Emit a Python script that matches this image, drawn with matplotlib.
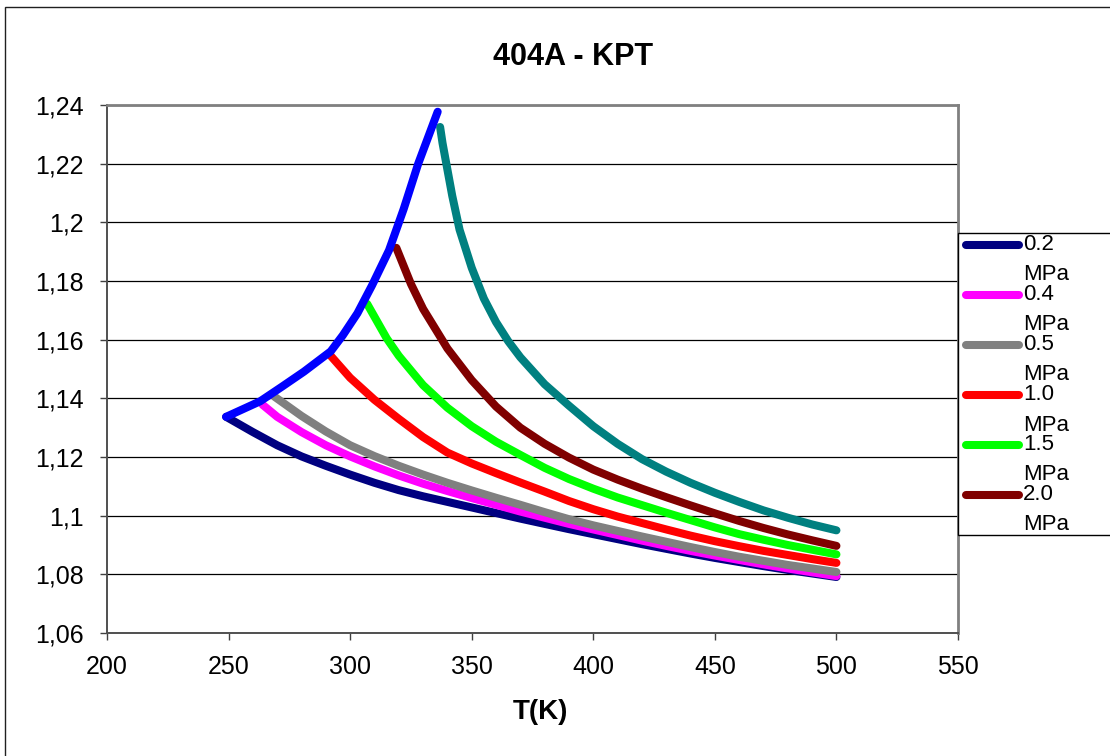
import matplotlib
matplotlib.use("Agg")
import matplotlib.pyplot as plt
from matplotlib.lines import Line2D
from matplotlib.patches import Rectangle

plt.rcParams['font.family'] = ['Liberation Sans', 'DejaVu Sans']

W, H = 1110, 756

# ---- isobars of R404A: temperature T (K) vs. ratio of specific heats k ----
t_02 = [249, 260, 270, 280, 290, 300, 310, 320, 330, 340, 350, 360, 370,
        380, 390, 400, 410, 420, 430, 440, 450, 460, 470, 480, 490, 500]
k_02 = [1.1337, 1.1285, 1.1240, 1.1202, 1.1170, 1.1140, 1.1112, 1.1087,
        1.1066, 1.1047, 1.1028, 1.1009, 1.0990, 1.0972, 1.0954, 1.0937,
        1.0920, 1.0903, 1.0887, 1.0871, 1.0856, 1.0842, 1.0828, 1.0815,
        1.0803, 1.0791]

t_04 = [264, 270, 280, 290, 300, 310, 320, 330, 340, 350, 360, 370, 380,
        390, 400, 410, 420, 430, 440, 450, 460, 470, 480, 490, 500]
k_04 = [1.1378, 1.1337, 1.1285, 1.1240, 1.1202, 1.1168, 1.1137, 1.1109,
        1.1084, 1.1060, 1.1037, 1.1014, 1.0993, 1.0972, 1.0953, 1.0934,
        1.0915, 1.0897, 1.0880, 1.0864, 1.0849, 1.0834, 1.0820, 1.0807,
        1.0794]

t_05 = [269, 280, 290, 300, 310, 320, 330, 340, 350, 360, 370, 380, 390,
        400, 410, 420, 430, 440, 450, 460, 470, 480, 490, 500]
k_05 = [1.1405, 1.1340, 1.1287, 1.1240, 1.1203, 1.1170, 1.1140, 1.1112,
        1.1086, 1.1061, 1.1037, 1.1012, 1.0988, 1.0967, 1.0948, 1.0929,
        1.0911, 1.0893, 1.0876, 1.0860, 1.0846, 1.0832, 1.0820, 1.0808]

t_10 = [292, 300, 310, 320, 330, 340, 350, 360, 370, 380, 390, 400, 410,
        420, 430, 440, 450, 460, 470, 480, 490, 500]
k_10 = [1.1545, 1.1470, 1.1395, 1.1330, 1.1268, 1.1215, 1.1178, 1.1145,
        1.1113, 1.1082, 1.1050, 1.1022, 1.0997, 1.0975, 1.0953, 1.0932,
        1.0913, 1.0896, 1.0880, 1.0866, 1.0852, 1.0839]

t_15 = [307, 315, 320, 330, 340, 350, 360, 370, 380, 390, 400, 410, 420,
        430, 440, 450, 460, 470, 480, 490, 500]
k_15 = [1.1722, 1.1605, 1.1545, 1.1445, 1.1368, 1.1305, 1.1252, 1.1207,
        1.1163, 1.1125, 1.1092, 1.1062, 1.1036, 1.1010, 1.0985, 1.0960,
        1.0937, 1.0918, 1.0900, 1.0884, 1.0868]

t_20 = [319, 325, 330, 340, 350, 360, 370, 380, 390, 400, 410, 420, 430,
        440, 450, 460, 470, 480, 490, 500]
k_20 = [1.1913, 1.1790, 1.1705, 1.1570, 1.1462, 1.1372, 1.1300, 1.1245,
        1.1198, 1.1157, 1.1123, 1.1092, 1.1063, 1.1035, 1.1008, 1.0982,
        1.0958, 1.0936, 1.0916, 1.0897]

t_30 = [337, 338, 340, 342, 345, 350, 355, 360, 365, 370, 380, 390, 400,
        410, 420, 430, 440, 450, 460, 470, 480, 490, 500]
k_30 = [1.2325, 1.2270, 1.2180, 1.2090, 1.1975, 1.1845, 1.1740, 1.1660,
        1.1595, 1.1540, 1.1448, 1.1375, 1.1305, 1.1245, 1.1193, 1.1150,
        1.1112, 1.1078, 1.1047, 1.1018, 1.0993, 1.0970, 1.0950]

# saturated vapour line
t_sat = [249, 263, 272, 281, 292, 297, 303, 309, 316, 322, 328, 336]
k_sat = [1.1337, 1.1390, 1.1440, 1.1491, 1.1560, 1.1615, 1.1690, 1.1785,
         1.1905, 1.2045, 1.2200, 1.2377]

legend_labels = ["0.2", "0.4", "0.5", "1.0", "1.5", "2.0"]
legend_unit = "MPa"

x_ticks = [200, 250, 300, 350, 400, 450, 500, 550]
y_ticks = [1.06, 1.08, 1.10, 1.12, 1.14, 1.16, 1.18, 1.20, 1.22, 1.24]
y_tick_labels = ["1,06", "1,08", "1,1", "1,12", "1,14", "1,16", "1,18",
                 "1,2", "1,22", "1,24"]

title = "404A - KPT"
x_label = "T(K)"

colors = {
    "0.2": "#000080", "0.4": "#FF00FF", "0.5": "#808080", "1.0": "#FF0000",
    "1.5": "#00FF00", "2.0": "#800000", "3.0": "#008080", "sat": "#0000FF",
}

fig = plt.figure(figsize=(W / 100, H / 100), dpi=100)
ax = fig.add_axes([107 / W, 1 - 633 / H, 851 / W, 528 / H])

LW = 5.8
line_kw = dict(lw=LW, solid_capstyle='round', solid_joinstyle='round')
series = [(t_02, k_02, "0.2"), (t_04, k_04, "0.4"), (t_05, k_05, "0.5"),
          (t_10, k_10, "1.0"), (t_15, k_15, "1.5"), (t_20, k_20, "2.0"),
          (t_30, k_30, "3.0"), (t_sat, k_sat, "sat")]
for i, (t, k, key) in enumerate(series):
    ax.plot(t, k, color=colors[key], zorder=3 + i, **line_kw)

ax.set_xlim(200, 550)
ax.set_ylim(1.06, 1.24)
ax.set_xticks(x_ticks)
ax.set_xticklabels([str(v) for v in x_ticks])
ax.set_yticks(y_ticks)
ax.set_yticklabels(y_tick_labels)

ax.yaxis.grid(True, color='black', lw=0.9)
ax.set_axisbelow(True)

for side in ('top', 'right'):
    ax.spines[side].set_color('#808080')
    ax.spines[side].set_linewidth(2.0)
for side in ('left', 'bottom'):
    ax.spines[side].set_color('#505050')
    ax.spines[side].set_linewidth(1.4)

ax.tick_params(axis='both', direction='out', length=5, width=1.0,
               color='#404040', labelsize=18, labelcolor='black')
ax.tick_params(axis='y', pad=12)
ax.tick_params(axis='x', pad=11)

# title and axis label
fig.text(573 / W, 1 - 57 / H, title, ha='center', va='center',
         fontsize=22, fontweight='bold')
fig.text(540 / W, 1 - 712 / H, x_label, ha='center', va='center',
         fontsize=20, fontweight='bold')

# outer chart frame
fig.add_artist(Rectangle((5 / W, -0.1), 1.2, 1.1 - 7 / H,
                         transform=fig.transFigure, fill=False,
                         ec='#202020', lw=1.0, zorder=1))

# legend box on the right
fig.add_artist(Rectangle((958 / W, 1 - 535 / H), 200 / W, 302 / H,
                         transform=fig.transFigure, fc='white',
                         ec='black', lw=1.0, zorder=10))
for i, lab in enumerate(legend_labels):
    yc = 245 + 50 * i
    fig.add_artist(Line2D([966 / W, 1019 / W], [1 - yc / H, 1 - yc / H],
                          transform=fig.transFigure, color=colors[lab],
                          lw=LW, solid_capstyle='round', zorder=11))
    fig.text(1023 / W, 1 - yc / H, lab, ha='left', va='center',
             fontsize=16, zorder=11)
    fig.text(1023 / W, 1 - (yc + 30) / H, legend_unit, ha='left',
             va='center', fontsize=16, zorder=11)

fig.savefig("out.png", dpi=100)
